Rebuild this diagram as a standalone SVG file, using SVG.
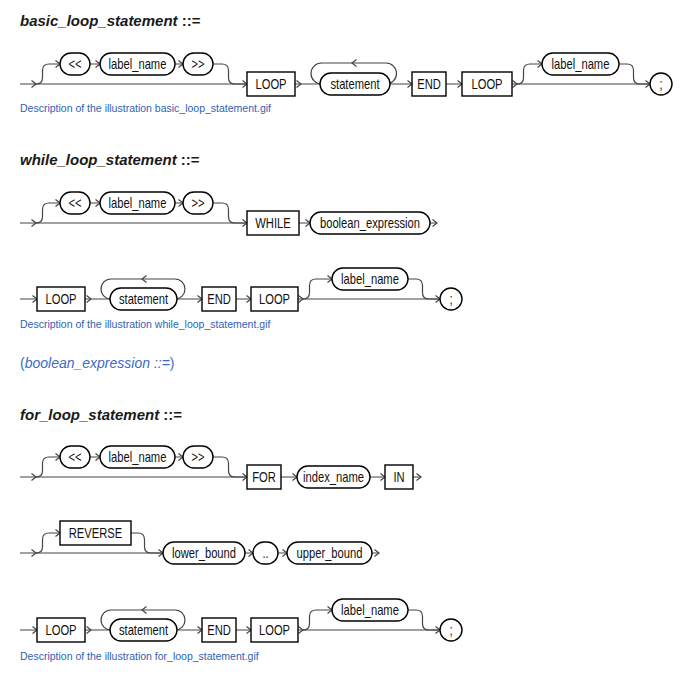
<svg xmlns="http://www.w3.org/2000/svg" xmlns:xlink="http://www.w3.org/1999/xlink" width="695" height="681" viewBox="0 0 695 681">
<style>
.h{font-family:"Liberation Sans",Arial,sans-serif;font-size:15px;font-weight:bold;fill:#1a1a1a}
.h .i{font-style:italic}
.d{font-family:"Liberation Sans",Arial,sans-serif;font-size:10.5px;fill:#2f62b3}
.p{font-family:"Liberation Sans",Arial,sans-serif;font-size:14px;fill:#3a6cc4}
.t{font-family:"Liberation Sans",Arial,sans-serif;font-size:14px;fill:#111;text-anchor:middle}
.n rect,.n circle{fill:#fff;stroke:#000;stroke-width:1.4}
.c path,.c use{fill:none;stroke:#444;stroke-width:1.2}
</style>
<defs>
<path id="a" d="M-4.5,-3.5 L0,0 L-4.5,3.5"/>
</defs>

<text class="h" x="20" y="26"><tspan class="i">basic_loop_statement</tspan> ::=</text>
<text class="h" x="20" y="165"><tspan class="i">while_loop_statement</tspan> ::=</text>
<text class="h" x="20" y="420"><tspan class="i">for_loop_statement</tspan> ::=</text>
<text class="d" x="20" y="112">Description of the illustration basic_loop_statement.gif</text>
<text class="d" x="20" y="328">Description of the illustration while_loop_statement.gif</text>
<text class="d" x="20" y="660">Description of the illustration for_loop_statement.gif</text>
<text class="p" x="20" y="368">(<tspan font-style="italic">boolean_expression ::=</tspan>)</text>

<g id="connectors" class="c">
<!-- diagram 1 -->
<path d="M20,84 H247"/>
<path d="M36,84 q6.5,0 6.5,-6.5 v-7 q0,-6.5 6.5,-6.5 H60"/>
<path d="M90,64 H100 M175,64 H183"/>
<path d="M213,64 H222 q6.5,0 6.5,6.5 v7 q0,6.5 6.5,6.5 H247"/>
<path d="M295,84 H320 M390,84 H412 M446,84 H462 M512,84 H650"/>
<path d="M386,84 A10.5,10.5 0 0 0 386,63 H321.5 A10.5,10.5 0 0 0 321.5,84"/>
<path d="M517,84 q6.5,0 6.5,-6.5 v-7 q0,-6.5 6.5,-6.5 H542"/>
<path d="M619,64 H627 q6.5,0 6.5,6.5 v7 q0,6.5 6.5,6.5 H650"/>
<use xlink:href="#a" x="36" y="84"/><use xlink:href="#a" x="60" y="64"/><use xlink:href="#a" x="100" y="64"/><use xlink:href="#a" x="183" y="64"/><use xlink:href="#a" x="247" y="84"/><use xlink:href="#a" x="301" y="84"/><use xlink:href="#a" x="412" y="84"/><use xlink:href="#a" x="462" y="84"/><use xlink:href="#a" x="517" y="84"/><use xlink:href="#a" x="542" y="64"/><use xlink:href="#a" x="650" y="84"/>
<use xlink:href="#a" transform="translate(352,63) rotate(180)"/>

<!-- diagram 2 row 1 -->
<path d="M20,223 H247"/>
<path d="M36,223 q6.5,0 6.5,-6.5 v-7 q0,-6.5 6.5,-6.5 H60"/>
<path d="M90,203 H100 M175,203 H183"/>
<path d="M213,203 H222 q6.5,0 6.5,6.5 v7 q0,6.5 6.5,6.5 H247"/>
<path d="M299,223 H310 M430,223 H437"/>
<use xlink:href="#a" x="36" y="223"/><use xlink:href="#a" x="60" y="203"/><use xlink:href="#a" x="100" y="203"/><use xlink:href="#a" x="183" y="203"/><use xlink:href="#a" x="247" y="223"/><use xlink:href="#a" x="310" y="223"/><use xlink:href="#a" x="437" y="223"/>

<!-- diagram 2 row 2 -->
<path d="M20,299 H37 M85,299 H110 M177,299 H202 M236,299 H251 M298,299 H440"/>
<path d="M175,299 A10,10 0 0 0 175,279 H111 A10,10 0 0 0 111,299"/>
<path d="M303,299 q6.5,0 6.5,-6.5 v-7 q0,-6.5 6.5,-6.5 H332"/>
<path d="M408,279 H416 q6.5,0 6.5,6.5 v7 q0,6.5 6.5,6.5 H440"/>
<use xlink:href="#a" x="37" y="299"/><use xlink:href="#a" x="91" y="299"/><use xlink:href="#a" x="202" y="299"/><use xlink:href="#a" x="251" y="299"/><use xlink:href="#a" x="303" y="299"/><use xlink:href="#a" x="332" y="279"/><use xlink:href="#a" x="440" y="299"/>
<use xlink:href="#a" transform="translate(142,279) rotate(180)"/>

<!-- diagram 3 row 1 -->
<path d="M20,477 H247"/>
<path d="M36,477 q6.5,0 6.5,-6.5 v-7 q0,-6.5 6.5,-6.5 H60"/>
<path d="M90,457 H100 M175,457 H183"/>
<path d="M213,457 H222 q6.5,0 6.5,6.5 v7 q0,6.5 6.5,6.5 H247"/>
<path d="M281,477 H297 M370,477 H385 M413,477 H421"/>
<use xlink:href="#a" x="36" y="477"/><use xlink:href="#a" x="60" y="457"/><use xlink:href="#a" x="100" y="457"/><use xlink:href="#a" x="183" y="457"/><use xlink:href="#a" x="247" y="477"/><use xlink:href="#a" x="297" y="477"/><use xlink:href="#a" x="385" y="477"/><use xlink:href="#a" x="421" y="477"/>

<!-- diagram 3 row 2 -->
<path d="M20,553 H163"/>
<path d="M36,553 q6.5,0 6.5,-6.5 v-7 q0,-6.5 6.5,-6.5 H60"/>
<path d="M131,533 H138 q6.5,0 6.5,6.5 v7 q0,6.5 6.5,6.5 H163"/>
<path d="M245,553 H253 M278,553 H287 M372,553 H379"/>
<use xlink:href="#a" x="36" y="553"/><use xlink:href="#a" x="60" y="533"/><use xlink:href="#a" x="163" y="553"/><use xlink:href="#a" x="253" y="553"/><use xlink:href="#a" x="287" y="553"/><use xlink:href="#a" x="379" y="553"/>

<!-- diagram 3 row 3 -->
<path d="M20,630 H37 M85,630 H110 M177,630 H202 M236,630 H251 M298,630 H440"/>
<path d="M175,630 A10,10 0 0 0 175,610 H111 A10,10 0 0 0 111,630"/>
<path d="M303,630 q6.5,0 6.5,-6.5 v-7 q0,-6.5 6.5,-6.5 H332"/>
<path d="M408,610 H416 q6.5,0 6.5,6.5 v7 q0,6.5 6.5,6.5 H440"/>
<use xlink:href="#a" x="37" y="630"/><use xlink:href="#a" x="91" y="630"/><use xlink:href="#a" x="202" y="630"/><use xlink:href="#a" x="251" y="630"/><use xlink:href="#a" x="303" y="630"/><use xlink:href="#a" x="332" y="610"/><use xlink:href="#a" x="440" y="630"/>
<use xlink:href="#a" transform="translate(142,610) rotate(180)"/>
</g>

<!-- diagram 1 nodes -->
<g id="d1-lt" class="n"><rect x="60" y="53" width="30" height="22" rx="11"/><text class="t" transform="translate(75,69) scale(.8,1)">&lt;&lt;</text></g>
<g id="d1-label" class="n"><rect x="100" y="53" width="75" height="22" rx="11"/><text class="t" transform="translate(137.5,69) scale(.8,1)">label_name</text></g>
<g id="d1-gt" class="n"><rect x="183" y="53" width="30" height="22" rx="11"/><text class="t" transform="translate(198,69) scale(.8,1)">&gt;&gt;</text></g>
<g id="d1-loop" class="n"><rect x="247" y="72" width="48" height="24"/><text class="t" transform="translate(271,89) scale(.8,1)">LOOP</text></g>
<g id="d1-stmt" class="n"><rect x="320" y="73" width="70" height="22" rx="11"/><text class="t" transform="translate(355,89) scale(.8,1)">statement</text></g>
<g id="d1-end" class="n"><rect x="412" y="72" width="34" height="24"/><text class="t" transform="translate(429,89) scale(.8,1)">END</text></g>
<g id="d1-loop2" class="n"><rect x="462" y="72" width="50" height="24"/><text class="t" transform="translate(487,89) scale(.8,1)">LOOP</text></g>
<g id="d1-label2" class="n"><rect x="542" y="53" width="77" height="22" rx="11"/><text class="t" transform="translate(580.5,69) scale(.8,1)">label_name</text></g>
<g id="d1-semi" class="n"><circle cx="661" cy="84" r="11"/><text class="t" transform="translate(661,89) scale(.8,1)">;</text></g>

<!-- diagram 2 nodes -->
<g id="d2-lt" class="n"><rect x="60" y="192" width="30" height="22" rx="11"/><text class="t" transform="translate(75,208) scale(.8,1)">&lt;&lt;</text></g>
<g id="d2-label" class="n"><rect x="100" y="192" width="75" height="22" rx="11"/><text class="t" transform="translate(137.5,208) scale(.8,1)">label_name</text></g>
<g id="d2-gt" class="n"><rect x="183" y="192" width="30" height="22" rx="11"/><text class="t" transform="translate(198,208) scale(.8,1)">&gt;&gt;</text></g>
<g id="d2-while" class="n"><rect x="247" y="211" width="52" height="24"/><text class="t" transform="translate(273,228) scale(.8,1)">WHILE</text></g>
<g id="d2-bool" class="n"><rect x="310" y="212" width="120" height="22" rx="11"/><text class="t" transform="translate(370,228) scale(.8,1)">boolean_expression</text></g>
<g id="d2-loop" class="n"><rect x="37" y="287" width="48" height="24"/><text class="t" transform="translate(61,304) scale(.8,1)">LOOP</text></g>
<g id="d2-stmt" class="n"><rect x="110" y="288" width="67" height="22" rx="11"/><text class="t" transform="translate(143.5,304) scale(.8,1)">statement</text></g>
<g id="d2-end" class="n"><rect x="202" y="287" width="34" height="24"/><text class="t" transform="translate(219,304) scale(.8,1)">END</text></g>
<g id="d2-loop2" class="n"><rect x="251" y="287" width="47" height="24"/><text class="t" transform="translate(274.5,304) scale(.8,1)">LOOP</text></g>
<g id="d2-label2" class="n"><rect x="332" y="268" width="76" height="22" rx="11"/><text class="t" transform="translate(370,284) scale(.8,1)">label_name</text></g>
<g id="d2-semi" class="n"><circle cx="451" cy="299" r="11"/><text class="t" transform="translate(451,304) scale(.8,1)">;</text></g>

<!-- diagram 3 nodes -->
<g id="d3-lt" class="n"><rect x="60" y="446" width="30" height="22" rx="11"/><text class="t" transform="translate(75,462) scale(.8,1)">&lt;&lt;</text></g>
<g id="d3-label" class="n"><rect x="100" y="446" width="75" height="22" rx="11"/><text class="t" transform="translate(137.5,462) scale(.8,1)">label_name</text></g>
<g id="d3-gt" class="n"><rect x="183" y="446" width="30" height="22" rx="11"/><text class="t" transform="translate(198,462) scale(.8,1)">&gt;&gt;</text></g>
<g id="d3-for" class="n"><rect x="247" y="465" width="34" height="24"/><text class="t" transform="translate(264,482) scale(.8,1)">FOR</text></g>
<g id="d3-index" class="n"><rect x="297" y="466" width="73" height="22" rx="11"/><text class="t" transform="translate(333.5,482) scale(.8,1)">index_name</text></g>
<g id="d3-in" class="n"><rect x="385" y="465" width="28" height="24"/><text class="t" transform="translate(399,482) scale(.8,1)">IN</text></g>
<g id="d3-reverse" class="n"><rect x="60" y="521" width="71" height="24"/><text class="t" transform="translate(95.5,538) scale(.8,1)">REVERSE</text></g>
<g id="d3-lower" class="n"><rect x="163" y="542" width="82" height="22" rx="11"/><text class="t" transform="translate(204,558) scale(.8,1)">lower_bound</text></g>
<g id="d3-dots" class="n"><rect x="253" y="542" width="25" height="22" rx="11"/><text class="t" transform="translate(265.5,558) scale(.8,1)">..</text></g>
<g id="d3-upper" class="n"><rect x="287" y="542" width="85" height="22" rx="11"/><text class="t" transform="translate(329.5,558) scale(.8,1)">upper_bound</text></g>
<g id="d3-loop" class="n"><rect x="37" y="618" width="48" height="24"/><text class="t" transform="translate(61,635) scale(.8,1)">LOOP</text></g>
<g id="d3-stmt" class="n"><rect x="110" y="619" width="67" height="22" rx="11"/><text class="t" transform="translate(143.5,635) scale(.8,1)">statement</text></g>
<g id="d3-end" class="n"><rect x="202" y="618" width="34" height="24"/><text class="t" transform="translate(219,635) scale(.8,1)">END</text></g>
<g id="d3-loop2" class="n"><rect x="251" y="618" width="47" height="24"/><text class="t" transform="translate(274.5,635) scale(.8,1)">LOOP</text></g>
<g id="d3-label2" class="n"><rect x="332" y="599" width="76" height="22" rx="11"/><text class="t" transform="translate(370,615) scale(.8,1)">label_name</text></g>
<g id="d3-semi" class="n"><circle cx="451" cy="630" r="11"/><text class="t" transform="translate(451,635) scale(.8,1)">;</text></g>
</svg>
